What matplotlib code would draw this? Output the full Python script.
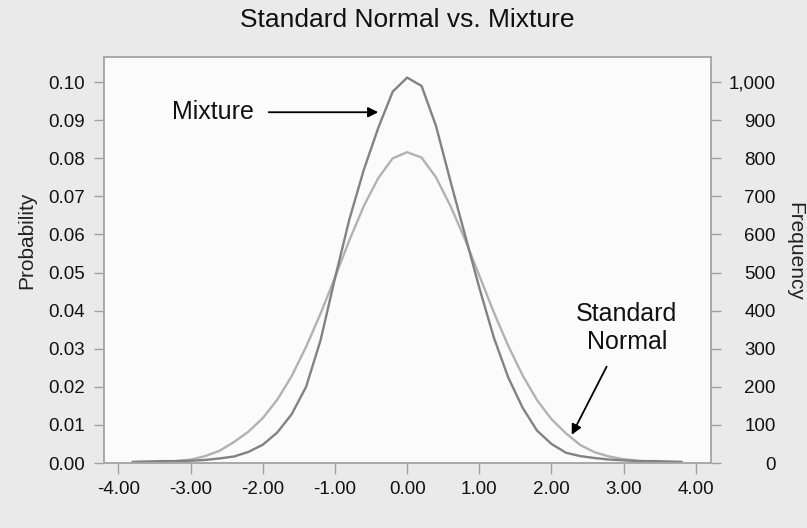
import matplotlib
matplotlib.use("Agg")
import matplotlib.pyplot as plt
from matplotlib.ticker import FuncFormatter

plt.rcParams['font.family'] = ['Liberation Sans', 'DejaVu Sans']

x_vals = [-3.8, -3.6, -3.4, -3.2, -3.0, -2.8, -2.6, -2.4, -2.2, -2.0,
          -1.8, -1.6, -1.4, -1.2, -1.0, -0.8, -0.6, -0.4, -0.2, 0.0,
          0.2, 0.4, 0.6, 0.8, 1.0, 1.2, 1.4, 1.6, 1.8, 2.0,
          2.2, 2.4, 2.6, 2.8, 3.0, 3.2, 3.4, 3.6, 3.8]

standard_normal = [0.0001, 0.0002, 0.0003, 0.0005, 0.0009, 0.0018, 0.0032, 0.0055, 0.0082, 0.0118,
                   0.0166, 0.0228, 0.0305, 0.0392, 0.0487, 0.0585, 0.0675, 0.0748, 0.0800, 0.0816,
                   0.0802, 0.0750, 0.0675, 0.0588, 0.0492, 0.0396, 0.0308, 0.0230, 0.0165, 0.0115,
                   0.0078, 0.0047, 0.0028, 0.0017, 0.0010, 0.0006, 0.0003, 0.0002, 0.0001]

mixture = [0.0003, 0.0004, 0.0005, 0.0005, 0.0006, 0.0008, 0.0012, 0.0017, 0.0029, 0.0048,
           0.0080, 0.0128, 0.0200, 0.0322, 0.0485, 0.0640, 0.0770, 0.0880, 0.0975, 0.1012,
           0.0990, 0.0885, 0.0740, 0.0600, 0.0460, 0.0330, 0.0225, 0.0145, 0.0085, 0.0050,
           0.0027, 0.0018, 0.0013, 0.0009, 0.0007, 0.0005, 0.0005, 0.0004, 0.0003]

x_ticks = [-4.0, -3.0, -2.0, -1.0, 0.0, 1.0, 2.0, 3.0, 4.0]
prob_ticks = [0.0, 0.01, 0.02, 0.03, 0.04, 0.05, 0.06, 0.07, 0.08, 0.09, 0.10]
freq_ticks = [0, 100, 200, 300, 400, 500, 600, 700, 800, 900, 1000]

fig = plt.figure(figsize=(8.07, 5.28), dpi=100)
fig.patch.set_facecolor('#eaeaea')
ax = fig.add_axes([104/807, 65/528, 607/807, 406/528])
ax.set_facecolor('#fbfbfb')

ax.plot(x_vals, standard_normal, color='#b2b2b2', lw=1.7, zorder=3)
ax.plot(x_vals, mixture, color='#828282', lw=1.7, zorder=4)

ax.set_xlim(-4.2, 4.21)
ax.set_ylim(0, 0.1066)
ax.set_xticks(x_ticks)
ax.xaxis.set_major_formatter(FuncFormatter(lambda v, p: f"{v:.2f}"))
ax.set_yticks(prob_ticks)
ax.yaxis.set_major_formatter(FuncFormatter(lambda v, p: f"{v:.2f}"))

ax2 = ax.twinx()
ax2.set_ylim(0, 1066)
ax2.set_yticks(freq_ticks)
ax2.yaxis.set_major_formatter(FuncFormatter(lambda v, p: f"{int(v):,}"))

for a in (ax, ax2):
    for s in a.spines.values():
        s.set_color('#a8a8a8')
        s.set_linewidth(1.2)
    a.tick_params(colors='#a0a0a0', labelcolor='#111111', labelsize=13.5, length=7, width=1.0)
ax.tick_params(axis='y', pad=6.5)
ax.tick_params(axis='x', pad=5, length=8)
ax2.tick_params(axis='y', pad=39.5, length=7)
for lbl in ax2.get_yticklabels():
    lbl.set_horizontalalignment('right')

ax.set_ylabel('Probability', fontsize=15, color='#222222', va='center')
ax.yaxis.set_label_coords(-0.127, 0.549)
ax2.set_ylabel('Frequency', fontsize=15, color='#222222', rotation=270, va='center')
ax2.yaxis.set_label_coords(1.138, 0.520)

fig.text(407/807, 1 - 20/528, 'Standard Normal vs. Mixture', ha='center', va='center',
         fontsize=19, color='#111111')

ax.annotate('Mixture', xy=(-0.40, 0.0921), xytext=(-2.13, 0.0921),
            ha='right', va='center', fontsize=18, color='#111111',
            arrowprops=dict(arrowstyle='-|>', color='black', lw=1.3, mutation_scale=15,
                            shrinkA=9, shrinkB=0))
ax.text(3.045, 0.0354, 'Standard\nNormal', ha='center', va='center', fontsize=18,
        color='#111111', linespacing=1.2)
ax.annotate('', xy=(2.28, 0.0074), xytext=(2.764, 0.0253),
            arrowprops=dict(arrowstyle='-|>', color='black', lw=1.3, mutation_scale=15,
                            shrinkA=0, shrinkB=0))

fig.savefig('out.png', dpi=100, facecolor=fig.get_facecolor())
